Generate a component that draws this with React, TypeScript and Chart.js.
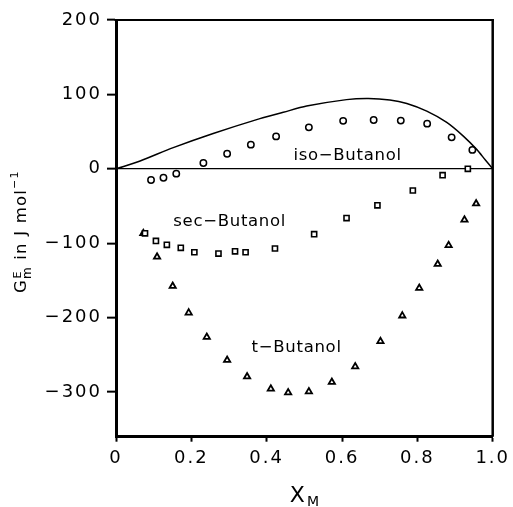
import React, { useEffect, useRef } from 'react';
import { Chart, registerables } from 'chart.js';

Chart.register(...registerables);

// Smooth model curve (iso-Butanol)
const xCurve = [0, 0.064, 0.152, 0.258, 0.382, 0.444, 0.506, 0.612, 0.67, 0.727, 0.772, 0.825, 0.878, 0.922, 0.958, 0.98, 1.0];
const yCurve = [0, 10.5, 28.5, 47.5, 67.5, 76.0, 84.3, 93.0, 94.5, 92.5, 87.8, 77.5, 62.4, 44.0, 25.8, 12.2, 0];

// iso-Butanol (circles)
const xIso = [0.093, 0.126, 0.16, 0.232, 0.295, 0.358, 0.425, 0.512, 0.603, 0.684, 0.756, 0.826, 0.891, 0.946];
const yIso = [-15, -12, -6.5, 7.8, 20.3, 32.5, 43.6, 55.7, 64.5, 65.6, 64.8, 60.7, 42.3, 25.4];

// sec-Butanol (squares)
const xSec = [0.077, 0.106, 0.135, 0.172, 0.208, 0.272, 0.316, 0.344, 0.422, 0.526, 0.612, 0.694, 0.788, 0.867, 0.934];
const ySec = [-86.7, -96.9, -102.1, -106.2, -112.1, -113.9, -110.9, -112.1, -107.1, -87.8, -66.2, -49, -29.1, -8.5, 0];

// t-Butanol (triangles)
const xTert = [0.0725, 0.109, 0.1505, 0.193, 0.241, 0.295, 0.348, 0.411, 0.457, 0.512, 0.573, 0.635, 0.702, 0.76, 0.805, 0.854, 0.883, 0.925, 0.956];
const yTert = [-86.7, -118.4, -157.7, -193.4, -226.1, -257.1, -279.3, -295.6, -300.7, -299.3, -286.7, -265.7, -231.8, -197.4, -160.2, -128.1, -102.8, -68.5, -46.8];

// Curve labels
const labelNames = ['iso\u2212Butanol', 'sec\u2212Butanol', 't\u2212Butanol'];
const labelX = [0.471, 0.152, 0.36];
const labelY = [11.3, -77, -245.8];

const xMin = 0;
const xMax = 1;
const xStep = 0.2;
const yMin = -360;
const yMax = 200;
const yStep = 100;

const FONT = '"DejaVu Sans", sans-serif';

function pts(xs: number[], ys: number[]) {
  return xs.map((x, i) => ({ x, y: ys[i] }));
}

const overlay = {
  id: 'overlay',
  beforeDraw(chart: any) {
    chart.ctx.letterSpacing = '2px';
  },
  afterDraw(chart: any) {
    const ctx = chart.ctx;
    const { left, right, top, bottom } = chart.chartArea;
    const xs = chart.scales.x;
    const ys = chart.scales.y;
    ctx.save();
    ctx.strokeStyle = '#000';
    ctx.lineWidth = 1.8;
    ctx.beginPath();
    ctx.moveTo(left - 1.5, top);
    ctx.lineTo(right + 1.2, top);
    ctx.stroke();
    ctx.lineWidth = 2.5;
    ctx.beginPath();
    ctx.moveTo(right, top - 0.9);
    ctx.lineTo(right, bottom);
    ctx.stroke();

    ctx.fillStyle = '#000';
    ctx.textAlign = 'left';
    ctx.textBaseline = 'alphabetic';
    ctx.font = `16.5px ${FONT}`;
    ctx.letterSpacing = '0.7px';
    labelNames.forEach((t, i) => {
      ctx.fillText(t, xs.getPixelForValue(labelX[i]), ys.getPixelForValue(labelY[i]));
    });

    // x title
    ctx.letterSpacing = '0px';
    const cx = (left + right) / 2;
    ctx.font = `22px ${FONT}`;
    ctx.fillText('X', cx - 14.5, 501.5);
    const wX = ctx.measureText('X').width;
    ctx.font = `14px ${FONT}`;
    ctx.fillText('M', cx - 14.5 + wX + 2, 506);

    // y title
    ctx.translate(25.5, 293);
    ctx.rotate(-Math.PI / 2);
    ctx.letterSpacing = '1.2px';
    let x = 0;
    ctx.font = `16.5px ${FONT}`;
    ctx.fillText('G', x, 0);
    x += ctx.measureText('G').width;
    ctx.font = `12px ${FONT}`;
    ctx.fillText('m', x, 5.5);
    const wm = ctx.measureText('m').width;
    ctx.font = `11px ${FONT}`;
    ctx.fillText('E', x + 0.5, -4.5);
    x += wm;
    ctx.font = `16.5px ${FONT}`;
    const main = ' in J mol';
    ctx.fillText(main, x, 0);
    x += ctx.measureText(main).width;
    ctx.font = `11px ${FONT}`;
    ctx.fillText('\u22121', x, -7.5);
    ctx.restore();
    ctx.letterSpacing = '0px';
  },
};

export default function App() {
  const ref = useRef<HTMLCanvasElement | null>(null);
  useEffect(() => {
    if (!ref.current) return;
    const chart = new Chart(ref.current, {
      type: 'scatter',
      data: {
        datasets: [
          {
            data: pts(xCurve, yCurve),
            showLine: true,
            borderColor: '#000',
            borderWidth: 1.5,
            pointRadius: 0,
            tension: 0.3,
            fill: false,
          } as any,
          {
            data: pts(xIso, yIso),
            pointStyle: 'circle',
            pointRadius: 3.2,
            borderWidth: 1.5,
            borderColor: '#000',
            backgroundColor: '#fff',
          },
          {
            data: pts(xSec, ySec),
            pointStyle: 'rect',
            pointRadius: 3.6,
            borderWidth: 1.6,
            borderColor: '#000',
            backgroundColor: '#fff',
          },
          {
            data: pts(xTert, yTert),
            pointStyle: 'triangle',
            pointRadius: 3.6,
            borderWidth: 1.8,
            borderColor: '#000',
            backgroundColor: '#fff',
          },
        ],
      },
      options: {
        responsive: false,
        animation: false,
        devicePixelRatio: 1,
        events: [],
        layout: { padding: { left: 0, top: 20, right: 20.3, bottom: 0 } },
        plugins: { legend: { display: false }, tooltip: { enabled: false } },
        scales: {
          x: {
            type: 'linear',
            position: 'bottom',
            min: xMin,
            max: xMax,
            ticks: {
              stepSize: xStep,
              color: '#000',
              font: { family: FONT, size: 18 },
              padding: 6,
              maxRotation: 0,
              autoSkip: false,
              callback: (v: any) => (Number(v) === 0 ? '0' : Number(v).toFixed(1)),
            },
            grid: {
              drawOnChartArea: false,
              drawTicks: true,
              tickLength: 5,
              tickColor: '#000',
              tickWidth: 2,
              color: '#000',
            },
            border: { display: true, color: '#000', width: 3 },
            afterFit: (s: any) => {
              s.height = 70.3;
              s.paddingLeft = 0;
              s.paddingRight = 0;
            },
          },
          y: {
            type: 'linear',
            min: yMin,
            max: yMax,
            ticks: {
              stepSize: yStep,
              includeBounds: false,
              color: '#000',
              font: { family: FONT, size: 18 },
              padding: 5,
              callback: (v: any) => (Number(v) < 0 ? '\u2212' + Math.abs(Number(v)) : String(v)),
            },
            grid: {
              drawOnChartArea: true,
              color: (c: any) => (c.tick && c.tick.value === 0 ? '#000' : 'rgba(0,0,0,0)'),
              lineWidth: 1.3,
              tickColor: '#000',
              tickWidth: 2,
              tickLength: 9,
            },
            border: { display: true, color: '#000', width: 3 },
            afterFit: (s: any) => {
              s.width = 116;
              s.paddingTop = 0;
              s.paddingBottom = 0;
            },
          },
        },
      } as any,
      plugins: [overlay],
    });
    return () => chart.destroy();
  }, []);
  return (
    <div style={{ position: 'fixed', left: 0, top: 0, width: 513, height: 507, background: '#fff' }}>
      <canvas ref={ref} width={513} height={507} style={{ display: 'block' }} />
    </div>
  );
}
